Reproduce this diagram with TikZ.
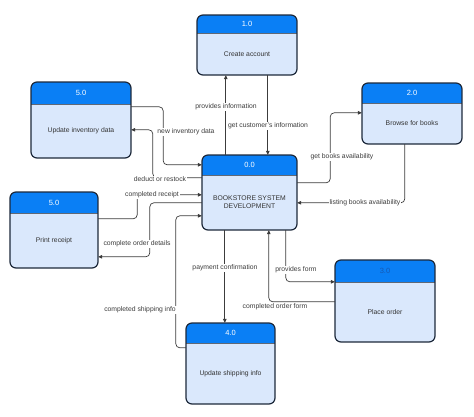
\documentclass[tikz,border=0pt]{standalone}
\usepackage{fontspec}
\setmainfont{Liberation Sans}
\usetikzlibrary{arrows.meta,calc,fit}
\definecolor{headfill}{RGB}{10,127,245}
\definecolor{bodyfill}{RGB}{218,232,252}
\definecolor{boxedge}{RGB}{28,40,58}
\definecolor{flowgray}{RGB}{60,60,60}
\definecolor{idblue}{RGB}{22,90,180}
\tikzset{
  boxline/.style={draw=boxedge,line width=1.2pt},
  flow/.style={draw=flowgray,line width=0.7pt,rounded corners=4pt,->},
  lbl/.style={fill=white,inner sep=1pt,text=flowgray},
  boxtext/.style={align=center,text=black!80},
  idtext/.style={font=\fontsize{7.5}{9}\selectfont}
}
\begin{document}
\begin{tikzpicture}[x=1pt,y=-1pt,font=\fontsize{6.8}{8.2}\selectfont,>={Triangle[length=4pt,width=3.6pt]}]
  \useasboundingbox (0,0) rectangle (474,416);
  % processes: name/left/top/right/bottom/header bottom/number/number colour/text
  \foreach \nm/\xa/\ya/\xb/\yb/\yh/\id/\idc/\txt in {
      acct/197/15/297/75/33/1.0/white/{Create account},
      inv/31/82/131/158/104/5.0/white/{Update inventory data},
      ctr/202/155/297/230/175/0.0/white/{BOOKSTORE SYSTEM\\DEVELOPMENT},
      browse/362/83/462/144/103/2.0/white/{Browse for books},
      rcpt/10/192/98/268/213/5.0/white/{Print receipt},
      ship/186/323/275/404/343/4.0/white/{Update shipping info},
      order/335/260/435/342/282/3.0/idblue/{Place order}}{
    \begin{scope}
      \clip[rounded corners=6pt] (\xa,\ya) rectangle (\xb,\yb);
      \fill[bodyfill] (\xa,\ya) rectangle (\xb,\yb);
      \fill[headfill] (\xa,\ya) rectangle (\xb,\yh);
    \end{scope}
    \draw[draw=boxedge!70,line width=0.5pt] (\xa,\yh) -- (\xb,\yh);
    \draw[boxline,rounded corners=6pt] (\xa,\ya) rectangle (\xb,\yb);
    \node[fit={(\xa,\ya) (\xb,\yb)},inner sep=0pt] (\nm) {};
    \node[idtext,text=\idc] (\nm-id) at ({(\xa+\xb)/2},{(\ya+\yh)/2}) {\id};
    \node[boxtext] (\nm-txt) at ({(\xa+\xb)/2},{(\yh+\yb)/2}) {\txt};}
  % flows to and from the top
  \draw[flow] ($(ctr.north west)+(24,0)$) coordinate (pi) -- (pi |- acct.south);
  \draw[flow] ($(acct.south west)+(71,0)$) coordinate (gc) -- (gc |- ctr.north);
  % inventory and receipt
  \draw[flow] ($(inv.north east)+(0,25)$) -- ++(32,0) |- ($(ctr.north west)+(0,10)$);
  \draw[flow] ($(ctr.north west)+(0,23)$) -- ++(-49,0) |- ($(inv.north east)+(0,48)$);
  \draw[flow] ($(rcpt.north east)+(0,27)$) -- ++(39,0) |- ($(ctr.north west)+(0,40)$);
  \draw[flow] ($(ctr.north west)+(0,48)$) -- ++(-52,0) |- ($(rcpt.north east)+(0,65)$);
  \draw[flow] ($(ship.north west)+(0,25)$) -- ++(-10,0) |- ($(ctr.north west)+(0,61)$);
  % shipping and order
  \draw[flow] ($(ctr.south west)+(23,0)$) coordinate (pc) -- (pc |- ship.north);
  \draw[flow] ($(ctr.south west)+(84,0)$) |- ($(order.north west)+(0,22)$);
  \draw[flow] ($(order.north west)+(0,42)$) -| ($(ctr.south west)+(67,0)$);
  % browsing
  \draw[flow] ($(ctr.north east)+(0,28)$) -- ++(33,0) |- ($(browse.north west)+(0,30)$);
  \draw[flow] ($(browse.south west)+(43,0)$) |- ($(ctr.north east)+(0,48)$);
  % flow labels
  \node[lbl] (l-pi) at (226,107) {provides information};
  \node[lbl] (l-gc) at (268,126) {get customer's information};
  \node[lbl] (l-nid) at (186,132) {new inventory data};
  \node[lbl] (l-dr) at (160,179) {deduct or restock};
  \node[lbl] (l-cr) at (152,195) {completed receipt};
  \node[lbl] (l-cod) at (137,244) {complete order details};
  \node[lbl] (l-csi) at (140,310) {completed shipping info};
  \node[lbl] (l-pc) at (225,268) {payment confirmation};
  \node[lbl] (l-pf) at (296,270) {provides form};
  \node[lbl] (l-cof) at (275,307) {completed order form};
  \node[lbl] (l-gba) at (342,157) {get books availability};
  \node[lbl] (l-lba) at (365,203) {listing books availability};
\end{tikzpicture}
\end{document}
